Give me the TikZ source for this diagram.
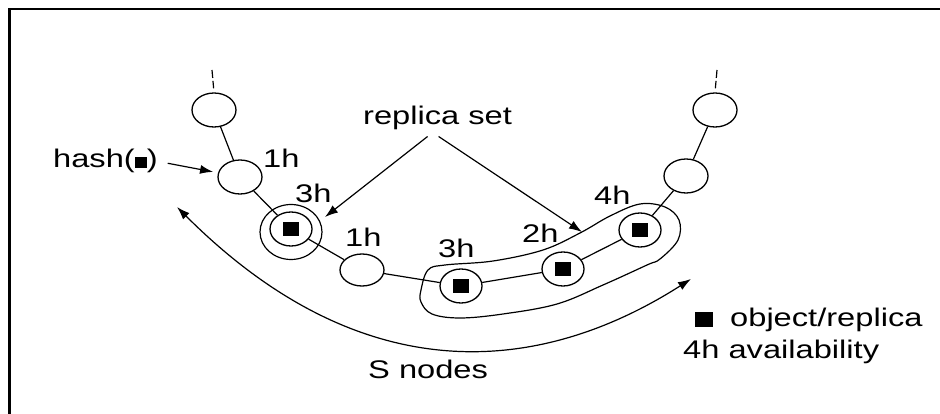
\documentclass[tikz,border=0pt]{standalone}
\usepackage{fontspec}
\setmainfont[FakeStretch=1.28]{Liberation Sans}
\usetikzlibrary{shapes.geometric,arrows.meta}

\begin{document}
\begin{tikzpicture}[x=1pt,y=-1pt,
  every node/.style={inner sep=0pt},
  lbl/.style={font=\fontsize{25.5}{30}\selectfont, anchor=base west},
  peer/.style={ellipse, draw, line width=1.3pt, minimum width=44pt, minimum height=34pt},
  holder/.style={peer, minimum width=42pt},
  link/.style={line width=1.2pt},
  arr/.style={line width=1.2pt, -{Latex[length=13pt,width=9pt]}},
]
\useasboundingbox (0,0) rectangle (940,414);

% open frame: top and left rules
\draw[line width=2.5pt] (9.5,414) -- (9.5,9) -- (940,9);

% ring of peers
\node[peer] (L1) at (214,110) {};
\node[peer] (L2) at (240,177) {};
\node[holder] (L3) at (291,229) {\rule{16pt}{14pt}};
\node[peer, minimum height=32pt] (L4) at (362,270) {};
\node[holder] (L5) at (461,286) {\rule{16pt}{14pt}};
\node[holder] (L6) at (563,269) {\rule{16pt}{14pt}};
\node[holder] (L7) at (640,230) {\rule{16pt}{14pt}};
\node[peer] (R2) at (686,176) {};
\node[peer] (R1) at (715,110) {};

% replica set of size one around the first holder
\node[ellipse, draw, line width=1.2pt, minimum width=62pt, minimum height=55pt] (ring) at (291,232) {};

% replica set of three holders
\draw[line width=1.2pt] plot[smooth cycle, tension=0.6] coordinates {
  (421,290) (428,270) (445,265) (493,261) (543,250) (580,233) (610,216)
  (640,204) (665,207) (679,220) (678,240) (660,259) (647,265) (603,285)
  (557,304) (503,314) (460,318) (432,314) (421,302)};

% ring links
\draw[link] (L1) -- (L2);
\draw[link] (L2) -- (L3);
\draw[link] (L3) -- (L4);
\draw[link] (L4) -- (L5);
\draw[link] (L5) -- (L6);
\draw[link] (L6) -- (L7);
\draw[link] (L7) -- (R2);
\draw[link] (R2) -- (R1);

% continuation stubs
\coordinate (topL) at (212,70);
\coordinate (topR) at (717,70);
\draw[link, dash pattern=on 8pt off 3pt, shorten >=4pt] (topL) -- (L1.north);
\draw[link, dash pattern=on 8pt off 3pt, shorten >=4pt] (topR) -- (R1.north);

% availability labels
\node[lbl] (a1) at (263,168) {1h};
\node[lbl] (a2) at (295,203) {3h};
\node[lbl] (a3) at (345,247) {1h};
\node[lbl] (a4) at (438,258) {3h};
\node[lbl] (a5) at (522,243) {2h};
\node[lbl] (a6) at (594,205) {4h};

% hash pointer
\node[lbl] (hash) at (53,168) {hash(\rule{12pt}{11pt})};
\draw[arr, shorten <=10pt, shorten >=5pt] (hash.east) -- (L2);

% replica set pointers
\node[lbl] (rs) at (363,125) {replica set};
\coordinate (tipL) at (325,217);
\coordinate (tipR) at (582,232);
\draw[arr] ([shift={(-10,6)}]rs.south) -- (tipL);
\draw[arr] ([shift={(1,6)}]rs.south) -- (tipR);

% span of S nodes
\coordinate (sL) at (177,207);
\coordinate (sR) at (691,279);
\draw[line width=1.2pt, {Latex[length=13pt,width=9pt]}-{Latex[length=13pt,width=9pt]}]
  (sL) .. controls (362,392) and (539,376) .. (sR);
\node[lbl] (sn) at (368,378) {S nodes};

% legend
\node[fill=black, minimum width=18pt, minimum height=15pt] (key) at (704,319) {};
\node[lbl] (objtxt) at (730,326) {object/replica};
\node[lbl] (avail) at (683,358) {4h availability};
\end{tikzpicture}
\end{document}
